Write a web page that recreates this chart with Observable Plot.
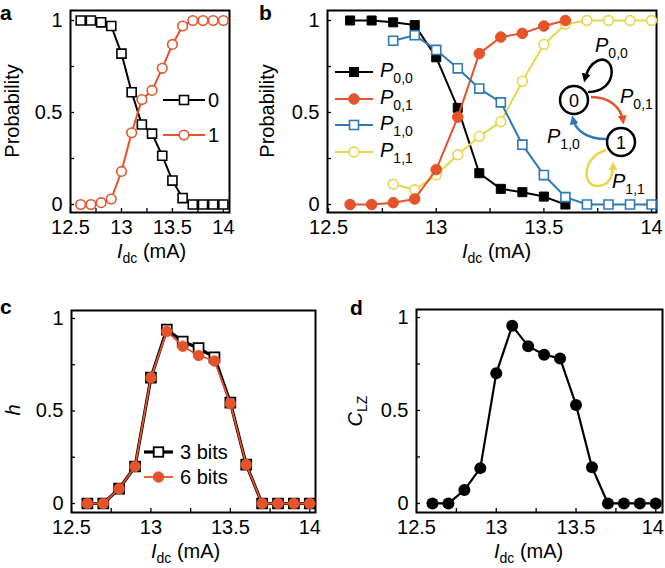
<!DOCTYPE html>
<html><head><meta charset="utf-8">
<script src="https://cdn.jsdelivr.net/npm/d3@7"></script>
<script src="https://cdn.jsdelivr.net/npm/@observablehq/plot@0.6"></script>
<style>
html,body{margin:0;padding:0;background:#fff;}
#root{position:relative;width:665px;height:568px;overflow:hidden;background:#fff;}
</style></head><body><div id="root"></div>
<script>
// ---------- data ----------
const currents = [12.6, 12.7, 12.8, 12.9, 13.0, 13.1, 13.2, 13.3, 13.4, 13.5, 13.6, 13.7, 13.8, 13.9, 14.0];
// panel a : probability of output bit
const probBit0 = [1, 1, 0.99, 0.97, 0.82, 0.61, 0.435, 0.385, 0.265, 0.13, 0.035, 0, 0, 0, 0];
const probBit1 = [0, 0, 0.01, 0.03, 0.18, 0.39, 0.57, 0.62, 0.74, 0.87, 0.97, 1, 1, 1, 1];
// panel b : transition probabilities
const currentsFrom0 = [12.6, 12.7, 12.8, 12.9, 13.0, 13.1, 13.2, 13.3, 13.4, 13.5, 13.6];
const p00 = [1, 1, 0.99, 0.975, 0.80, 0.525, 0.17, 0.085, 0.067, 0.043, 0.0];
const p01 = [0, 0, 0.01, 0.03, 0.19, 0.475, 0.82, 0.91, 0.93, 0.97, 1.0];
const currentsFrom1 = [12.8, 12.9, 13.0, 13.1, 13.2, 13.3, 13.4, 13.5, 13.6, 13.7, 13.8, 13.9, 14.0];
const p10 = [0.89, 0.92, 0.84, 0.74, 0.63, 0.555, 0.325, 0.16, 0.04, 0, 0, 0, 0];
const p11 = [0.11, 0.08, 0.16, 0.27, 0.37, 0.45, 0.67, 0.87, 0.98, 1, 1, 1, 1];
// panel c : entropy h
const h3bits = [0, 0, 0.08, 0.20, 0.68, 0.94, 0.875, 0.84, 0.79, 0.545, 0.21, 0, 0, 0, 0];
const h6bits = [0, 0, 0.08, 0.20, 0.68, 0.93, 0.85, 0.80, 0.77, 0.54, 0.21, 0, 0, 0, 0];
// panel d : Lempel-Ziv complexity
const clz = [0, 0, 0.072, 0.19, 0.70, 0.955, 0.846, 0.80, 0.78, 0.53, 0.195, 0, 0, 0, 0];
// ticks
const xTicksMajor = [12.5, 13, 13.5, 14];
const xTicksMinor = [12.5, 12.75, 13, 13.25, 13.5, 13.75, 14];
const yTicksMajor = [0, 0.5, 1];
const yTicksMinor = [0, 0.25, 0.5, 0.75, 1];

// ---------- style ----------
const FONT = "'Liberation Sans', Arial, Helvetica, sans-serif";
const ORANGE = "#e5532a";
const BLUE = "#2d79b8";
const YELLOW = "#e6d64a";
const FS = 20;
const SUB = 14;

const rows = (xs, ys) => xs.map((x, i) => ({x, y: ys[i]}));
const root = document.getElementById("root");

function panel({left, top, width, height, ml, mr, mt, mb, xDomain, yDomain, marks, lastLabelDx = 0}) {
  const svg = Plot.plot({
    width, height, marginLeft: ml, marginRight: mr, marginTop: mt, marginBottom: mb,
    x: {domain: xDomain}, y: {domain: yDomain},
    style: {fontFamily: FONT, fontSize: FS + "px", background: "transparent", color: "#000", overflow: "visible"},
    marks: [
      Plot.axisX(xTicksMinor, {tickSize: 4, dy: -4, fill: "none", label: null, strokeWidth: 1.3}),
      Plot.axisX(xTicksMajor.slice(0, -1), {tickSize: 0, tickPadding: 7, tickFormat: d => String(d), label: null}),
      Plot.axisX(xTicksMajor.slice(-1), {tickSize: 0, tickPadding: 7, dx: lastLabelDx, tickFormat: d => String(d), label: null}),
      Plot.axisY(yTicksMinor, {tickSize: 4, dx: 4, fill: "none", label: null, strokeWidth: 1.3}),
      Plot.axisY(yTicksMajor, {tickSize: 0, tickPadding: 8, tickFormat: d => String(d), label: null}),
      Plot.frame({stroke: "#000", strokeWidth: 2}),
      ...marks
    ]
  });
  svg.style.position = "absolute";
  svg.style.left = left + "px";
  svg.style.top = top + "px";
  root.appendChild(svg);
  return svg;
}

const yDomTop = [-0.0435, 1.0543];
const yDomBot = [-0.0486, 1.043];

// panel a
const dA0 = rows(currents, probBit0), dA1 = rows(currents, probBit1);
panel({left: 0, top: 0, width: 232, height: 268, ml: 70, mr: 3, mt: 10, mb: 56,
  xDomain: [12.5, 14.06], yDomain: yDomTop,
  marks: [
    Plot.line(dA0, {x: "x", y: "y", stroke: "#000", strokeWidth: 2}),
    Plot.dot(dA0, {x: "x", y: "y", symbol: "square", r: 5.1, fill: "#fff", stroke: "#000", strokeWidth: 1.6}),
    Plot.line(dA1, {x: "x", y: "y", stroke: ORANGE, strokeWidth: 2}),
    Plot.dot(dA1, {x: "x", y: "y", symbol: "circle", r: 4.8, fill: "#fff", stroke: ORANGE, strokeWidth: 1.6})
  ]});

// panel b
const d00 = rows(currentsFrom0, p00), d01 = rows(currentsFrom0, p01);
const d10 = rows(currentsFrom1, p10), d11 = rows(currentsFrom1, p11);
panel({left: 232, top: 0, width: 433, height: 268, ml: 95, mr: 9, mt: 10, mb: 56,
  xDomain: [12.495, 14.023], yDomain: yDomTop,
  marks: [
    Plot.line(d00, {x: "x", y: "y", stroke: "#000", strokeWidth: 2}),
    Plot.dot(d00, {x: "x", y: "y", symbol: "square", r: 5.1, fill: "#000", stroke: "#000", strokeWidth: 1}),
    Plot.line(d11, {x: "x", y: "y", stroke: YELLOW, strokeWidth: 2}),
    Plot.dot(d11, {x: "x", y: "y", symbol: "circle", r: 4.9, fill: "#fff", stroke: YELLOW, strokeWidth: 1.6}),
    Plot.line(d01, {x: "x", y: "y", stroke: ORANGE, strokeWidth: 2}),
    Plot.dot(d01, {x: "x", y: "y", symbol: "circle", r: 5.3, fill: ORANGE, stroke: ORANGE, strokeWidth: 1}),
    Plot.line(d10, {x: "x", y: "y", stroke: BLUE, strokeWidth: 2}),
    Plot.dot(d10, {x: "x", y: "y", symbol: "square", r: 5.1, fill: "#fff", stroke: BLUE, strokeWidth: 1.6})
  ]});

// panel c
const dC3 = rows(currents, h3bits), dC6 = rows(currents, h6bits);
panel({left: 0, top: 280, width: 330, height: 288, ml: 71, mr: 15, mt: 30, mb: 56,
  xDomain: [12.5, 14.036], yDomain: yDomBot,
  marks: [
    Plot.line(dC3, {x: "x", y: "y", stroke: "#000", strokeWidth: 3.2}),
    Plot.dot(dC3, {x: "x", y: "y", symbol: "square", r: 5.6, fill: "#fff", stroke: "#000", strokeWidth: 1.8}),
    Plot.line(dC6, {x: "x", y: "y", stroke: ORANGE, strokeWidth: 1.8}),
    Plot.dot(dC6, {x: "x", y: "y", symbol: "circle", r: 5.3, fill: ORANGE, stroke: ORANGE, strokeWidth: 0.8})
  ]});

// panel d
const dD = rows(currents, clz);
panel({left: 330, top: 280, width: 335, height: 288, ml: 86, mr: 3, mt: 29, mb: 56,
  xDomain: [12.5, 14.042], yDomain: yDomBot, lastLabelDx: -3,
  marks: [
    Plot.line(dD, {x: "x", y: "y", stroke: "#000", strokeWidth: 2.2}),
    Plot.dot(dD, {x: "x", y: "y", symbol: "circle", r: 6, fill: "#000"})
  ]});

// ---------- overlay: letters, axis titles, legends, state diagram ----------
const ov = d3.select(root).append("svg")
  .attr("width", 665).attr("height", 568)
  .style("position", "absolute").style("left", "0px").style("top", "0px")
  .attr("font-family", FONT).attr("font-size", FS);

// panel letters
[["a", 0, 20], ["b", 259, 20], ["c", 0, 314], ["d", 350, 315]].forEach(([t, x, y]) =>
  ov.append("text").attr("x", x).attr("y", y).attr("font-weight", "bold").attr("font-size", 21).text(t));

// x titles
function idcLabel(x, y) {
  const t = ov.append("text").attr("x", x).attr("y", y);
  t.append("tspan").attr("font-style", "italic").text("I");
  t.append("tspan").attr("font-size", SUB).attr("dy", 5).text("dc");
  t.append("tspan").attr("dy", -5).text(" (mA)");
}
idcLabel(117, 258); idcLabel(462, 258); idcLabel(151, 558); idcLabel(494, 558);

// y titles (rotated)
function yTitle(x, y, build) {
  const t = ov.append("text").attr("transform", `translate(${x},${y}) rotate(-90)`).attr("text-anchor", "middle");
  build(t);
}
yTitle(18.5, 111, t => t.text("Probability"));
yTitle(274, 111, t => t.text("Probability"));
yTitle(20, 410, t => t.append("tspan").attr("font-style", "italic").text("h"));
yTitle(362, 411, t => {
  t.append("tspan").attr("font-style", "italic").text("C");
  t.append("tspan").attr("font-size", SUB).attr("dy", 5).text("LZ");
});

function pText(x, y, sub, size = FS) {
  const t = ov.append("text").attr("x", x).attr("y", y).attr("font-size", size);
  t.append("tspan").attr("font-style", "italic").text("P");
  t.append("tspan").attr("font-size", size * 0.7).attr("dy", size * 0.3).text(sub);
}
function legendEntry(x1, x2, y, color, lw, marker, textX, label) {
  ov.append("line").attr("x1", x1).attr("x2", x2).attr("y1", y).attr("y2", y).attr("stroke", color).attr("stroke-width", lw);
  const cx = (x1 + x2) / 2;
  if (marker.shape === "square") {
    ov.append("rect").attr("x", cx - marker.s / 2).attr("y", y - marker.s / 2).attr("width", marker.s).attr("height", marker.s)
      .attr("fill", marker.fill).attr("stroke", marker.stroke).attr("stroke-width", marker.sw);
  } else {
    ov.append("circle").attr("cx", cx).attr("cy", y).attr("r", marker.r)
      .attr("fill", marker.fill).attr("stroke", marker.stroke).attr("stroke-width", marker.sw);
  }
  if (typeof label === "string") ov.append("text").attr("x", textX).attr("y", y + 7).text(label);
  else pText(textX, y + 5, label.sub);
}
// legend a
legendEntry(163, 205, 100, "#000", 2, {shape: "square", s: 9, fill: "#fff", stroke: "#000", sw: 1.6}, 208, "0");
legendEntry(163, 205, 135, ORANGE, 2, {shape: "circle", r: 4.8, fill: "#fff", stroke: ORANGE, sw: 1.6}, 208, "1");
// legend b
legendEntry(335, 373, 72, "#000", 2, {shape: "square", s: 9, fill: "#000", stroke: "#000", sw: 1}, 380, {sub: "0,0"});
legendEntry(335, 373, 99, ORANGE, 2, {shape: "circle", r: 5.3, fill: ORANGE, stroke: ORANGE, sw: 1}, 380, {sub: "0,1"});
legendEntry(335, 373, 125, BLUE, 2, {shape: "square", s: 9, fill: "#fff", stroke: BLUE, sw: 1.6}, 380, {sub: "1,0"});
legendEntry(335, 373, 152, YELLOW, 2, {shape: "circle", r: 4.9, fill: "#fff", stroke: YELLOW, sw: 1.6}, 380, {sub: "1,1"});
// legend c
legendEntry(144, 173, 452, "#000", 3.2, {shape: "square", s: 9.5, fill: "#fff", stroke: "#000", sw: 1.8}, 180, "3 bits");
legendEntry(144, 173, 477, ORANGE, 1.8, {shape: "circle", r: 5.3, fill: ORANGE, stroke: ORANGE, sw: 0.8}, 180, "6 bits");

// state diagram
const defs = ov.append("defs");
function arrowMarker(id, color) {
  defs.append("marker").attr("id", id).attr("viewBox", "0 0 10 10").attr("refX", 6).attr("refY", 5)
    .attr("markerWidth", 9).attr("markerHeight", 9).attr("markerUnits", "userSpaceOnUse").attr("orient", "auto")
    .append("path").attr("d", "M0,0 L10,5 L0,10 z").attr("fill", color);
}
arrowMarker("ak", "#000"); arrowMarker("ao", ORANGE); arrowMarker("ab", BLUE); arrowMarker("ay", YELLOW);
const arc = (d, color, m) => ov.append("path").attr("d", d).attr("fill", "none").attr("stroke", color)
  .attr("stroke-width", 2.5).attr("marker-end", `url(#${m})`);
arc("M588,92 C620,92 616,52 597,61 C591,64 587,71 585,79", "#000", "ak");
arc("M591,97 C609,97 621,107 623,121", ORANGE, "ao");
arc("M606,139 C589,139 576,132 573,119", BLUE, "ab");
arc("M606,150 C578,158 582,197 607,183 C611,179 613,173 613,165", YELLOW, "ay");
[[574, 100, "0"], [621, 142, "1"]].forEach(([cx, cy, t]) => {
  ov.append("circle").attr("cx", cx).attr("cy", cy).attr("r", 14).attr("fill", "#fff").attr("stroke", "#000").attr("stroke-width", 2.5);
  ov.append("text").attr("x", cx).attr("y", cy + 6.5).attr("text-anchor", "middle").attr("font-size", 18).text(t);
});
pText(595, 52, "0,0");
pText(620, 103, "0,1");
pText(547, 143, "1,0");
pText(612, 188, "1,1");
</script>
</body></html>
